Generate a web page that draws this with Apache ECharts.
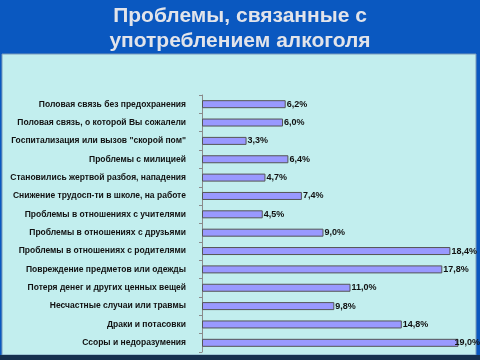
<!DOCTYPE html>
<html><head><meta charset="utf-8">
<script src="https://cdn.jsdelivr.net/npm/echarts@6/dist/echarts.min.js"></script>
<style>html,body{margin:0;padding:0;background:#0a58c0}#c{width:480px;height:360px}</style>
</head><body><div id="c"></div>
<script>
const titleLines = ['Проблемы, связанные с', 'употреблением алкоголя'];
const categories = [
  'Половая связь без предохранения',
  'Половая связь, о которой Вы сожалели',
  'Госпитализация или вызов "скорой пом"',
  'Проблемы с милицией',
  'Становились жертвой разбоя, нападения',
  'Снижение трудосп-ти в школе, на работе',
  'Проблемы в отношениях с учителями',
  'Проблемы в отношениях с друзьями',
  'Проблемы в отношениях с родителями',
  'Повреждение предметов или одежды',
  'Потеря денег и других ценных вещей',
  'Несчастные случаи или травмы',
  'Драки и потасовки',
  'Ссоры и недоразумения'
];
const values = [6.2, 6.0, 3.3, 6.4, 4.7, 7.4, 4.5, 9.0, 18.4, 17.8, 11.0, 9.8, 14.8, 19.0];
const axisMax = 20;

const chart = echarts.init(document.getElementById('c'));
chart.setOption({
  animation: false,
  backgroundColor: '#0a58c0',
  graphic: [
    {type: 'rect', z: -10, shape: {x: 2, y: 54, width: 474, height: 301}, style: {fill: '#c2eeee', stroke: '#7a9ab8', lineWidth: 1}},
    {type: 'rect', z: -10, shape: {x: 0, y: 355, width: 480, height: 5}, style: {fill: '#16304e'}},
    {type: 'text', left: 'center', top: 4, style: {
      text: titleLines.join('\n'), fill: '#e2e4ea', font: 'bold 21px "Liberation Sans", Arial, sans-serif',
      textAlign: 'center', lineHeight: 25, textShadowColor: '#1a1a2a', textShadowOffsetX: 2, textShadowOffsetY: 2, textShadowBlur: 0
    }}
  ],
  grid: {left: 202, top: 95, right: 8, bottom: 8, containLabel: false, outerBoundsMode: 'none'},
  xAxis: {type: 'value', min: 0, max: axisMax, show: false},
  yAxis: {
    type: 'category', data: categories, inverse: true,
    axisLine: {lineStyle: {color: '#8a8a8a'}},
    axisTick: {show: true, length: 3, lineStyle: {color: '#8a8a8a'}},
    axisLabel: {color: '#111', fontFamily: '"Liberation Sans", Arial, sans-serif', fontSize: 8.5, fontWeight: 'bold', margin: 16}
  },
  series: [{
    type: 'bar', barWidth: 8,
    data: values.map(v => (v / axisMax > 0.93 ? {value: v, label: {offset: [-5, 0]}} : {value: v})),
    itemStyle: {color: '#9999ff', borderColor: '#555', borderWidth: 1},
    label: {show: true, position: 'right', distance: 1, color: '#111', fontFamily: '"Liberation Sans", Arial, sans-serif',
      fontSize: 9, fontWeight: 'bold', formatter: p => p.value.toFixed(1).replace('.', ',') + '%'}
  }]
});
</script></body></html>
